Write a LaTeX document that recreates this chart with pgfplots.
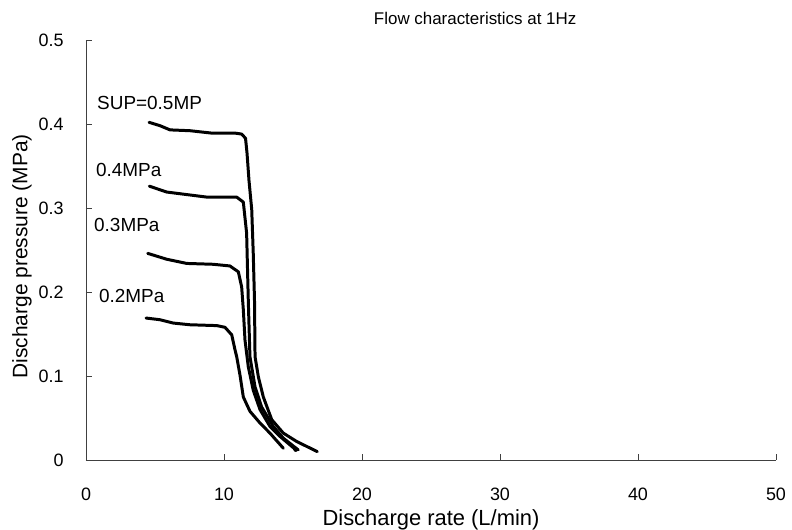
\documentclass[border=0pt]{standalone}
\usepackage{fontspec}
\setmainfont{Liberation Sans}
\usepackage{pgfplots}
\pgfplotsset{compat=1.18}

\begin{document}
\begin{tikzpicture}
\useasboundingbox (-86bp,-70bp) rectangle (706bp,460bp);
\begin{axis}[
    scale only axis,
    width=690bp, height=420bp,
    xmin=0, xmax=50, ymin=0, ymax=0.5,
    xtick={0,10,...,50},
    ytick={0,0.1,...,0.5},
    axis lines=left,
    axis line style={-, black!75, line width=0.7pt},
    tick style={black!75, line width=0.7pt},
    tick align=inside,
    major tick length=6bp,
    /pgf/number format/assume math mode=true,
    tick label style={font=\fontsize{18}{20}\selectfont},
    xticklabel style={yshift=-24bp},
    yticklabel style={xshift=-19bp},
    clip=false,
]
% SUP = 0.5 MPa
\addplot[black, line width=3pt, line join=round, line cap=round] coordinates {
 (4.57,0.402) (5.36,0.398) (6.09,0.393) (7.54,0.392) (9.20,0.389) (10.87,0.389)
 (11.28,0.388) (11.56,0.383) (11.67,0.365) (11.81,0.333) (12.01,0.298)
 (12.12,0.246) (12.21,0.190) (12.25,0.123) (12.49,0.099) (12.85,0.075)
 (13.46,0.048) (14.30,0.032) (15.27,0.022) (16.76,0.010)
};
% 0.4 MPa
\addplot[black, line width=3pt, line join=round, line cap=round] coordinates {
 (4.59,0.326) (5.85,0.319) (6.81,0.317) (8.74,0.313) (10.92,0.313)
 (11.40,0.307) (11.64,0.270) (11.76,0.190) (11.88,0.123) (12.25,0.087)
 (12.73,0.063) (13.57,0.040) (14.30,0.026) (15.38,0.012)
};
% 0.3 MPa
\addplot[black, line width=3pt, line join=round, line cap=round] coordinates {
 (4.47,0.246) (5.85,0.239) (7.30,0.234) (9.22,0.233) (10.43,0.231)
 (11.04,0.224) (11.28,0.206) (11.40,0.179) (11.52,0.143) (11.76,0.111)
 (12.12,0.083) (12.61,0.060) (13.33,0.040) (14.06,0.028) (15.07,0.014)
 (15.20,0.011)
};
% 0.2 MPa
\addplot[black, line width=3pt, line join=round, line cap=round] coordinates {
 (4.35,0.169) (5.36,0.167) (6.33,0.163) (7.54,0.161) (9.47,0.160)
 (10.07,0.158) (10.56,0.149) (10.80,0.131) (10.92,0.123) (11.16,0.101)
 (11.40,0.075) (11.88,0.058) (12.61,0.044) (13.33,0.032) (14.30,0.014)
};
\node[anchor=west, font=\fontsize{19}{21}\selectfont, inner sep=0pt] at (axis cs:0.80,0.425) {SUP=0.5MP};
\node[anchor=west, font=\fontsize{19}{21}\selectfont, inner sep=0pt] at (axis cs:0.72,0.345) {0.4MPa};
\node[anchor=west, font=\fontsize{19}{21}\selectfont, inner sep=0pt] at (axis cs:0.58,0.280) {0.3MPa};
\node[anchor=west, font=\fontsize{19}{21}\selectfont, inner sep=0pt] at (axis cs:0.94,0.195) {0.2MPa};
\node[font=\fontsize{17}{19}\selectfont] at (rel axis cs:0.564,1.052) {Flow characteristics at 1Hz};
\node[font=\fontsize{22}{24}\selectfont] at (rel axis cs:0.5,-0.142) {Discharge rate (L/min)};
\node[font=\fontsize{21}{23}\selectfont, rotate=90] at (rel axis cs:-0.0928,0.485) {Discharge pressure (MPa)};
\end{axis}
\end{tikzpicture}
\end{document}
